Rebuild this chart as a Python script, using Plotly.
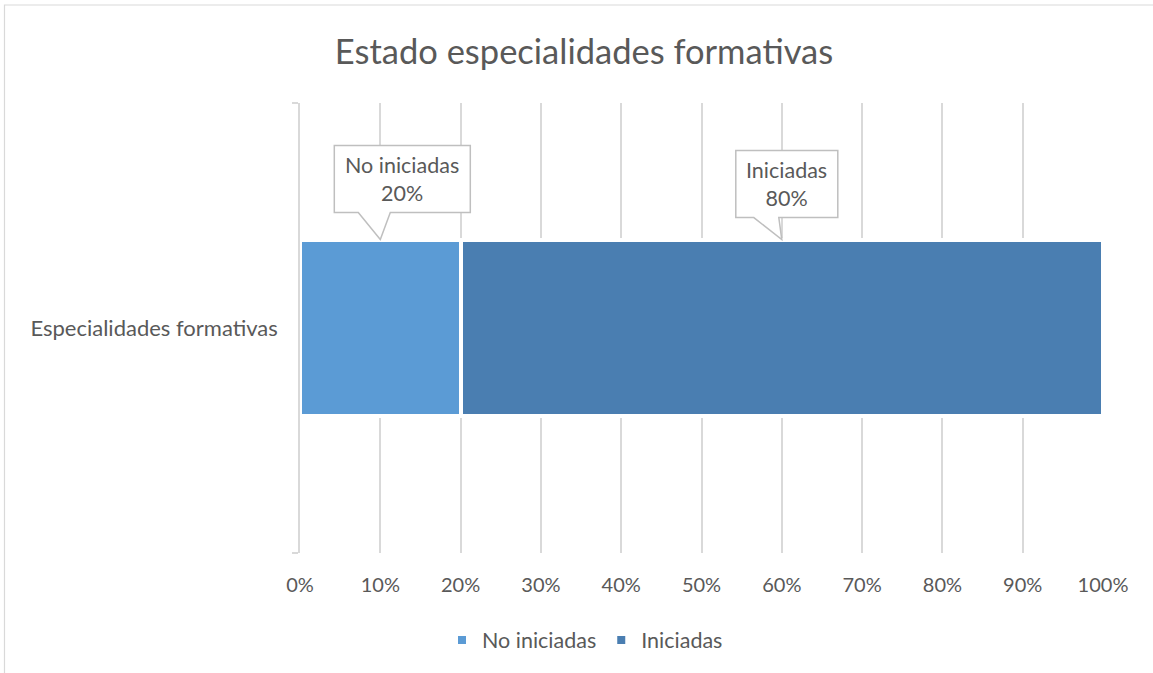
import plotly.graph_objects as go

categories = ["Especialidades formativas"]
series_names = ["No iniciadas", "Iniciadas"]
series_values = [20, 80]
series_colors = ["#5B9BD5", "#4A7EB1"]
x_ticks = list(range(0, 101, 10))
title_text = "Estado especialidades formativas"

FONT = "Lato"
TXT = "#595959"
GRID = "#D9D9D9"
BAR_W = 0.393

fig = go.Figure()
for name, val, col in zip(series_names, series_values, series_colors):
    fig.add_trace(go.Bar(
        name=name, x=[val], y=[0], orientation="h", width=BAR_W,
        marker=dict(color=col, line=dict(color="white", width=4)),
        hoverinfo="skip",
    ))

# callouts (box + pointer), anchored at the middle of each segment, at the bar top
callout_paths = [
    ("M -22,27 L -46,27 L -46,94 L 90,94 L 90,27 L 10,27 L 0,0 Z", 22, 60.5),
    ("M -28,22 L -46,22 L -46,89 L 56,89 L 56,22 L -3,22 L 0,0 Z", 5, 55.5),
]
cum = 0
for (name, val), (path, cx, cy) in zip(zip(series_names, series_values), callout_paths):
    mid = cum + val / 2
    cum += val
    fig.add_shape(type="path", xref="x", yref="y", xsizemode="pixel", ysizemode="pixel",
                  xanchor=mid, yanchor=BAR_W / 2, path=path,
                  fillcolor="white", line=dict(color="#BFBFBF", width=1.5), layer="above")
    fig.add_annotation(x=mid, y=BAR_W / 2, xref="x", yref="y", xshift=cx, yshift=cy,
                       text=f"{name}<br>{val}%", showarrow=False,
                       font=dict(family=FONT, size=21.5, color=TXT), align="center")

# outer chart border
fig.add_shape(type="rect", xref="paper", yref="paper",
              x0=(4.5 - 300) / 803, x1=(1160 - 300) / 803,
              y0=(553 - 680) / 450, y1=(553 - 5) / 450,
              line=dict(color=GRID, width=1.2), fillcolor="rgba(0,0,0,0)", layer="below")

fig.update_layout(
    width=1153, height=673,
    margin=dict(l=300, r=50, t=103, b=120),
    paper_bgcolor="white", plot_bgcolor="white",
    barmode="stack",
    font=dict(family=FONT, size=20, color=TXT),
    title=dict(text=title_text, x=584 / 1153, xanchor="center", xref="container",
               y=1 - 52 / 673, yanchor="middle", yref="container",
               font=dict(family=FONT, size=34.5, color=TXT)),
    showlegend=True,
    legend=dict(orientation="h", x=(585 - 300) / 803, xanchor="center",
                y=(553 - 640) / 450, yanchor="middle", itemwidth=30,
                font=dict(family=FONT, size=21.5, color=TXT), traceorder="normal"),
    xaxis=dict(range=[0, 100], tickvals=x_ticks, ticktext=[f"{t}%" for t in x_ticks],
               showgrid=True, gridcolor=GRID, gridwidth=1.5, zeroline=False,
               showline=False, ticks="", ticklabelstandoff=18,
               tickfont=dict(family=FONT, size=20, color=TXT), fixedrange=True),
    yaxis=dict(range=[-0.5, 0.5], tickvals=[0], ticktext=categories,
               showgrid=False, zeroline=False, showline=True, linecolor=GRID, linewidth=1.5,
               ticks="", ticklabelstandoff=16,
               minor=dict(tickvals=[-0.5, 0.5], ticks="outside", ticklen=6,
                          tickcolor=GRID, tickwidth=1.5, showgrid=False),
               tickfont=dict(family=FONT, size=22, color=TXT), fixedrange=True),
)

fig.write_html("out.html", config={"displayModeBar": False},
               post_script="document.body.style.margin='0';document.body.style.overflow='hidden';")
